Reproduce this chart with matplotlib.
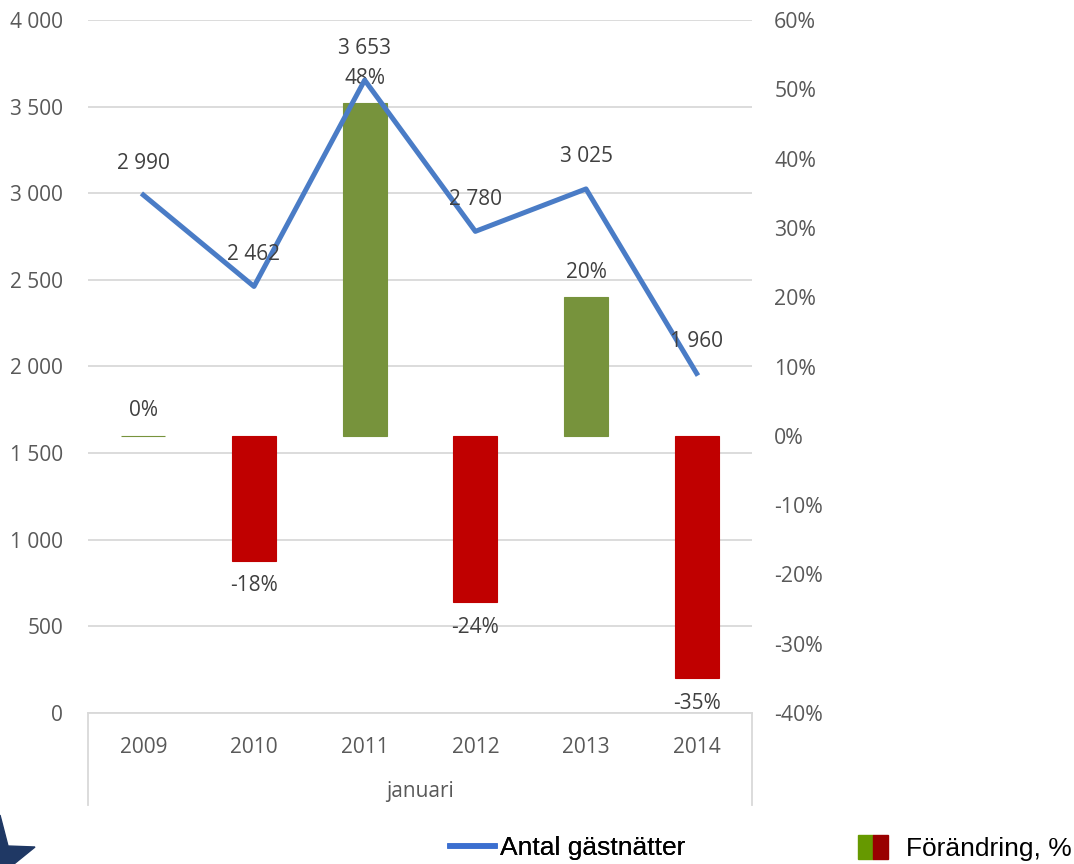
import matplotlib.pyplot as plt
import matplotlib.ticker as mticker
from matplotlib.patches import Patch, Polygon
from matplotlib.lines import Line2D
from matplotlib.legend_handler import HandlerTuple

# data
years = ['2009', '2010', '2011', '2012', '2013', '2014']
nights = [2990, 2462, 3653, 2780, 3025, 1960]      # Antal gästnätter (vänster axel)
change = [0, -18, 48, -24, 20, -35]                  # Förändring, % (höger axel)

plt.rcParams['font.family'] = ['Open Sans', 'DejaVu Sans']
txt = '#595959'
grid_c = '#d9d9d9'
line_c = '#4a7cc6'
green = '#77933c'
red = '#c00000'

fig = plt.figure(figsize=(10.74, 8.64), dpi=100)
ax = fig.add_axes([88/1074, 1-713/864, (752-88)/1074, (713-20)/864])
ax2 = ax.twinx()

x = list(range(len(years)))

# vänster axel: rutnät + etiketter
ax.set_ylim(0, 4000)
ax.set_xlim(-0.5, len(years)-0.5)
ax.yaxis.set_major_locator(mticker.MultipleLocator(500))
ax.yaxis.set_major_formatter(mticker.FuncFormatter(lambda v, p: f"{int(v):,}".replace(",", " ")))
ax.grid(axis='y', color=grid_c, linewidth=1.3)
ax.set_axisbelow(True)
ax.tick_params(axis='y', length=0, pad=18, labelsize=15, labelcolor=txt)
ax.set_xticks(x)
ax.set_xticklabels(years)
ax.tick_params(axis='x', length=0, pad=17, labelsize=15, labelcolor=txt)
for s in ['top', 'left', 'right']:
    ax.spines[s].set_visible(False)
ax.spines['bottom'].set_color(grid_c)
ax.spines['bottom'].set_linewidth(1.3)

# höger axel: staplar
ax2.set_ylim(-40, 60)
ax2.yaxis.set_major_locator(mticker.MultipleLocator(10))
ax2.yaxis.set_major_formatter(mticker.FuncFormatter(lambda v, p: f"{int(round(v))}%"))
ax2.tick_params(axis='y', length=0, pad=16, labelsize=15.3, labelcolor=txt)
for s in ax2.spines.values():
    s.set_visible(False)

cols = [green if c >= 0 else red for c in change]
ax2.bar(x, change, width=0.4, color=cols, edgecolor=cols, linewidth=0.8, zorder=2)
for xi, c in zip(x, change):
    off = 18 if c >= 0 else -18
    ax2.annotate(f"{c}%", (xi, c), xytext=(0, off), textcoords='offset points',
                 ha='center', va='center', fontsize=15, color='#404040')

# linje ovanpå staplarna (i vänster axels skala)
ax2.plot(x, nights, color=line_c, linewidth=3.6, transform=ax.transData, zorder=3)
for xi, n in zip(x, nights):
    ax2.annotate(f"{n:,}".replace(",", " "), (xi, n), xycoords=ax.transData,
                 xytext=(0, 23), textcoords='offset points',
                 ha='center', va='center', fontsize=15, color='#404040', zorder=4)

# kategorigrupp "januari"
for xa in (0, 1):
    ax.plot([xa, xa], [0, -92/693], transform=ax.transAxes, color=grid_c,
            linewidth=1.3, clip_on=False)
ax.text(0.5, -79/693, 'januari', transform=ax.transAxes, ha='center', va='center',
        fontsize=15, color=txt)

# legend
leg1 = fig.legend([Line2D([], [], color='#3b6fd0', linewidth=4)], ['Antal gästnätter'],
                  loc='center left', bbox_to_anchor=(450/1074, 1-848/864),
                  frameon=False, prop={'family': 'Liberation Sans', 'size': 19},
                  handlelength=1.7, handletextpad=0.2, borderpad=0, borderaxespad=0)
leg2 = fig.legend([(Patch(color='#669900'), Patch(color='#990000'))], ['Förändring, %'],
                  handler_map={tuple: HandlerTuple(ndivide=None, pad=0)},
                  loc='center left', bbox_to_anchor=(858/1074, 1-848/864),
                  frameon=False, prop={'family': 'Liberation Sans', 'size': 19},
                  handlelength=1.15, handleheight=1.0, handletextpad=0.65,
                  borderpad=0, borderaxespad=0)
fig.add_artist(leg1)

# dekorativ stjärnspets nere till vänster
corner = [(0, 815), (8, 846), (35, 847), (14, 864), (0, 864)]
star = Polygon([(px/1074, 1-py/864) for px, py in corner], closed=True,
               color='#1f3864', transform=fig.transFigure)
fig.add_artist(star)

fig.savefig('out.png', dpi=100)
